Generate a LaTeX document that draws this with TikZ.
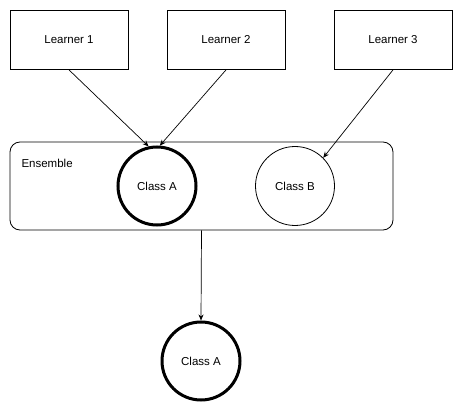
\documentclass[tikz,border=0pt]{standalone}
\usepackage{fontspec}
\setmainfont{Liberation Sans}
\usetikzlibrary{arrows.meta}

\begin{document}
\begin{tikzpicture}[x=1pt,y=-1pt,
    font=\fontsize{11.5}{13}\selectfont,
    learner/.style={draw,line width=0.8pt,minimum width=118pt,minimum height=59pt},
    ensbox/.style={draw,line width=0.8pt,rounded corners=10pt,minimum width=383pt,minimum height=88pt},
    winner/.style={draw,circle,line width=3pt,minimum size=78pt},
    loser/.style={draw,circle,line width=0.8pt,minimum size=79pt},
    vote/.style={-{Stealth[length=6pt,width=5pt]},line width=0.7pt}]
  \useasboundingbox (0,0) rectangle (463,414);
  \node[learner] (l1) at (69,40) {Learner 1};
  \node[learner] (l2) at (226,40) {Learner 2};
  \node[learner] (l3) at (393,40) {Learner 3};
  \node[ensbox] (ens) at (201.5,186) {};
  \node[anchor=west] (enslabel) at (18,163) {Ensemble};
  \node[winner] (ca) at (157,186) {Class A};
  \node[loser] (cb) at (295,186) {Class B};
  \node[winner] (final) at (201,361) {Class A};
  \draw[vote] (l1.south) -- (ca.102);
  \draw[vote] (l2.south) -- (ca.86);
  \draw[vote] (l3.south) -- (cb.45);
  \draw[vote] (ens.south) -- (final.north);
\end{tikzpicture}
\end{document}
